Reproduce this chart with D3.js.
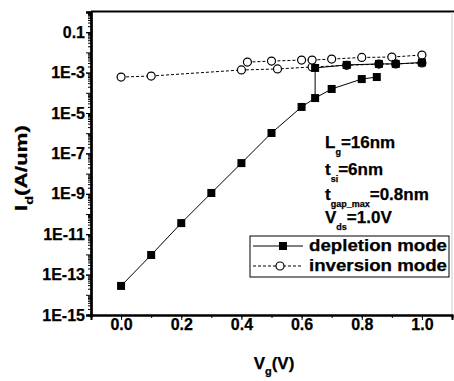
<!DOCTYPE html>
<html>
<head>
<meta charset="utf-8">
<script src="https://cdn.jsdelivr.net/npm/d3@7"></script>
<style>
  body { margin: 0; background: #fff; }
  svg { display: block; font-family: "Liberation Sans", Arial, sans-serif; font-weight: bold; }
  svg text { stroke: #000; stroke-width: 0.25px; }
</style>
</head>
<body>
<svg id="chart" width="454" height="381"></svg>
<script>
// Depletion mode, main branch (Vg, log10 Id)
const depVg  = [0.0, 0.1, 0.2, 0.3, 0.4, 0.5, 0.6, 0.645, 0.70, 0.80, 0.85];
const depLog = [-13.56, -12.03, -10.45, -8.96, -7.48, -5.99, -4.70, -4.26, -3.81, -3.32, -3.22];
// Depletion mode, upper branch (starts at the jump near 0.645 V)
const depHiVg  = [0.645, 0.645, 0.75, 0.857, 0.913, 1.0];
const depHiLog = [-4.26, -2.77, -2.62, -2.57, -2.57, -2.50];
// Inversion mode, lower branch
const invVg  = [0.0, 0.1, 0.4, 0.52, 0.635, 0.75, 0.857, 0.913, 1.0];
const invLog = [-3.22, -3.17, -2.87, -2.82, -2.72, -2.64, -2.58, -2.57, -2.52];
// Inversion mode, upper branch
const invHiVg  = [0.42, 0.5, 0.6, 0.635, 0.70, 0.80, 0.90, 1.0];
const invHiLog = [-2.48, -2.43, -2.38, -2.38, -2.33, -2.25, -2.23, -2.13];

const xTicks = [0.0, 0.2, 0.4, 0.6, 0.8, 1.0];
const yTicks = [1e-1, 1e-3, 1e-5, 1e-7, 1e-9, 1e-11, 1e-13, 1e-15];
const yTickLabels = ["0.1", "1E-3", "1E-5", "1E-7", "1E-9", "1E-11", "1E-13", "1E-15"];
const legendItems = ["depletion mode", "inversion mode"];

const svg = d3.select("#chart");
const plotL = 91, plotR = 452, plotT = 12, plotB = 315;
const font = "Liberation Sans, Arial, sans-serif";

const x = d3.scaleLinear().domain([-0.1, 1.1]).range([plotL, plotR]);
const y = d3.scaleLog().domain([1e-15, 1]).range([plotB, plotT]);

const toPts = (vg, lg) => vg.map((v, i) => ({ vg: v, id: Math.pow(10, lg[i]) }));
const dep = toPts(depVg, depLog);
const depHi = toPts(depHiVg, depHiLog);
const inv = toPts(invVg, invLog);
const invHi = toPts(invHiVg, invHiLog);

// frame
svg.append("line").attr("x1", plotL).attr("x2", 454).attr("y1", plotT - 0.5).attr("y2", plotT - 0.5)
  .attr("stroke", "#000").attr("stroke-width", 2);
svg.append("line").attr("x1", plotR).attr("x2", plotR).attr("y1", plotT).attr("y2", plotB)
  .attr("stroke", "#ccc").attr("stroke-width", 1);

// y axis: major every decade, minor log ticks
const yMinor = [];
for (let e = -15; e < 0; e++) for (let k = 2; k <= 9; k++) yMinor.push(k * Math.pow(10, e));
const yMajor = d3.range(-15, 1).map(e => Math.pow(10, e));

const yAxis = svg.append("g").attr("transform", `translate(${plotL},0)`);
yAxis.call(d3.axisLeft(y).tickValues(yMinor).tickSize(3).tickFormat(""));
yAxis.append("g").call(d3.axisLeft(y).tickValues(yMajor).tickSize(5).tickFormat(""));
yAxis.append("g").call(d3.axisLeft(y).tickValues(yTicks).tickSize(5).tickPadding(1)
  .tickFormat((d, i) => yTickLabels[i]));
yAxis.selectAll(".domain").attr("stroke-width", 2);
yAxis.selectAll("text").attr("font-size", 16).attr("font-weight", "bold")
  .attr("font-family", font).attr("fill", "#000");

// x axis
const xMinor = d3.range(-0.1, 1.11, 0.1);
const xAxis = svg.append("g").attr("transform", `translate(0,${plotB})`);
xAxis.call(d3.axisBottom(x).tickValues(xMinor).tickSize(3).tickFormat(""));
xAxis.append("g").call(d3.axisBottom(x).tickValues(xTicks).tickSize(5).tickFormat(d3.format(".1f")));
xAxis.selectAll(".domain").attr("stroke-width", 2);
xAxis.selectAll("text").attr("font-size", 16).attr("font-weight", "bold")
  .attr("font-family", font).attr("fill", "#000").attr("y", 4).attr("dy", "0.71em");

// lines
const line = d3.line().x(d => x(d.vg)).y(d => y(d.id));
[inv, invHi].forEach(s => svg.append("path").attr("d", line(s)).attr("fill", "none")
  .attr("stroke", "#000").attr("stroke-width", 1).attr("stroke-dasharray", "3,2"));
[dep, depHi].forEach(s => svg.append("path").attr("d", line(s)).attr("fill", "none")
  .attr("stroke", "#000").attr("stroke-width", 1));

// markers
const circ = inv.concat(invHi);
svg.selectAll(".inv").data(circ).enter().append("circle")
  .attr("class", "inv").attr("cx", d => x(d.vg)).attr("cy", d => y(d.id)).attr("r", 4)
  .attr("fill", "#fff").attr("stroke", "#000").attr("stroke-width", 1.2);
const sq = dep.concat(depHi.slice(1));
svg.selectAll(".dep").data(sq).enter().append("rect")
  .attr("class", "dep").attr("x", d => x(d.vg) - 4).attr("y", d => y(d.id) - 4)
  .attr("width", 8).attr("height", 8).attr("fill", "#000");

// axis titles
const xt = svg.append("text").attr("x", 274).attr("y", 369).attr("text-anchor", "middle")
  .attr("font-size", 17);
xt.append("tspan").text("V");
xt.append("tspan").attr("font-size", 11).attr("dy", 6).text("g");
xt.append("tspan").attr("dy", -6).text("(V)");

// y title, stretched along its reading direction like the scan
const ytG = svg.append("g").attr("transform", "translate(27,168) rotate(-90)");
const yt = ytG.append("text").attr("text-anchor", "middle").attr("font-size", 17);
yt.append("tspan").text("I");
yt.append("tspan").attr("font-size", 11).attr("dy", 6).text("d");
yt.append("tspan").attr("dy", -6).text("(A/um)");
const ytw = yt.node().getBBox().width;
yt.attr("transform", `scale(${86 / ytw},1)`);

// annotation
const notes = [
  { main: "L", sub: "g", rest: "=16nm", y: 148 },
  { main: "t", sub: "si", rest: "=6nm", y: 175 },
  { main: "t", sub: "gap_max", rest: "=0.8nm", y: 200 },
  { main: "V", sub: "ds", rest: "=1.0V", y: 223 }
];
notes.forEach(n => {
  const t = svg.append("text").attr("x", 325).attr("y", n.y).attr("font-size", 17);
  t.append("tspan").text(n.main);
  t.append("tspan").attr("font-size", 9).attr("dy", 7).text(n.sub);
  t.append("tspan").attr("dy", -7).text(n.rest);
});

// legend
const lg = svg.append("g");
lg.append("rect").attr("x", 250).attr("y", 236).attr("width", 199).attr("height", 41)
  .attr("fill", "#fff").attr("stroke", "#000").attr("stroke-width", 1);
legendItems.forEach((name, i) => {
  const ly = 246 + i * 20;
  lg.append("line").attr("x1", 253).attr("x2", 303).attr("y1", ly).attr("y2", ly)
    .attr("stroke", "#000").attr("stroke-width", 1)
    .attr("stroke-dasharray", i === 0 ? null : "3,2");
  if (i === 0) {
    lg.append("rect").attr("x", 279).attr("y", ly - 4).attr("width", 8).attr("height", 8).attr("fill", "#000");
  } else {
    lg.append("circle").attr("cx", 280).attr("cy", ly).attr("r", 4)
      .attr("fill", "#fff").attr("stroke", "#000").attr("stroke-width", 1.2);
  }
  lg.append("text").attr("x", 309).attr("y", ly + 5).attr("font-size", 17)
    .attr("textLength", 138).attr("lengthAdjust", "spacingAndGlyphs").text(name);
});
</script>
</body>
</html>
